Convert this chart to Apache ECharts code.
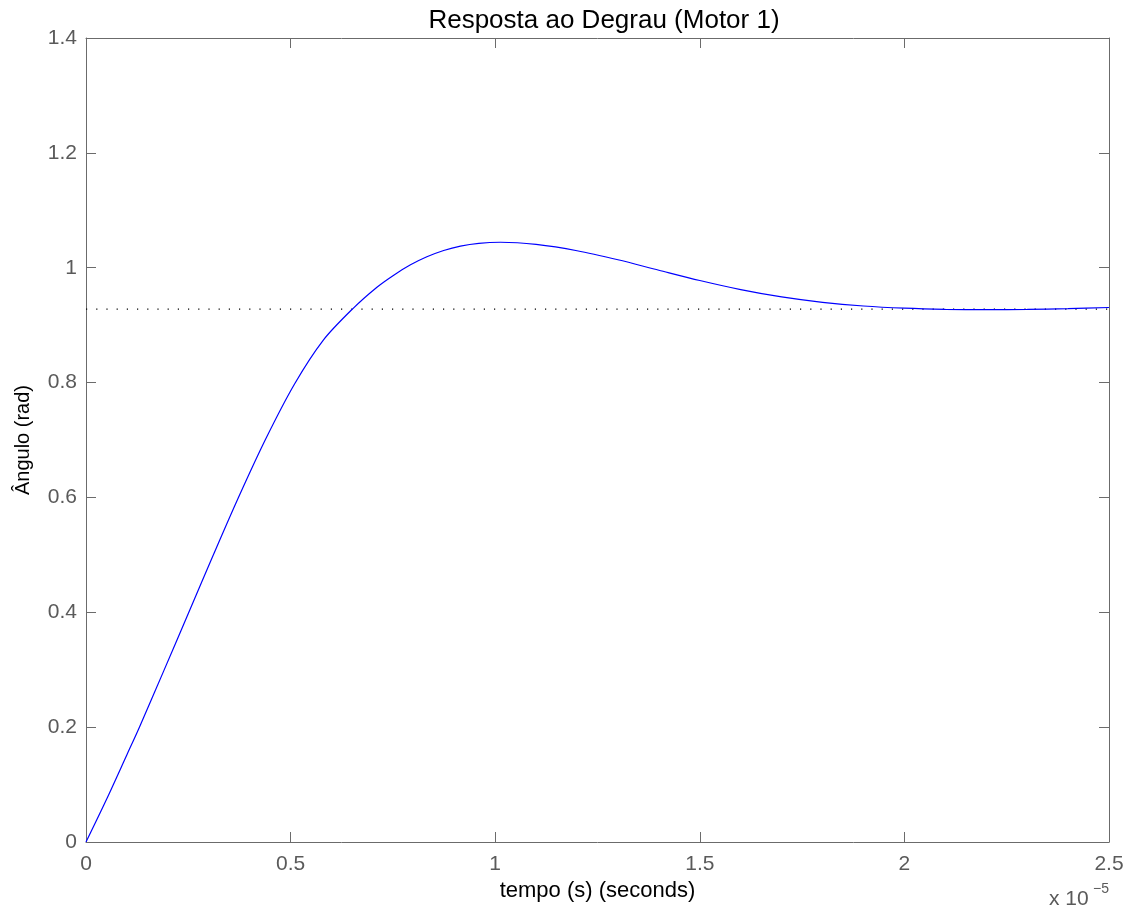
<!DOCTYPE html>
<html>
<head>
<meta charset="utf-8">
<script src="https://cdn.jsdelivr.net/npm/echarts@6/dist/echarts.min.js"></script>
<style>
  html, body { margin: 0; padding: 0; background: #fff; }
  #chart { width: 1134px; height: 912px; }
</style>
</head>
<body>
<div id="chart"></div>
<script>
// Step response of motor 1; time stored in units of 1e-5 s
const time_1e5 = [0, 0.05, 0.1, 0.13, 0.19, 0.25, 0.31, 0.372, 0.44, 0.51, 0.58, 0.651, 0.711, 0.752,
  0.793, 0.833, 0.874, 0.915, 0.96, 1.013, 1.1, 1.2, 1.3, 1.4, 1.5, 1.6, 1.7, 1.8, 1.9, 2.0, 2.1,
  2.2, 2.3, 2.4, 2.5];
const angle = [0, 0.074, 0.152, 0.199, 0.298, 0.398, 0.498, 0.599, 0.703, 0.798, 0.874, 0.928, 0.966, 0.987,
  1.005, 1.019, 1.030, 1.0377, 1.0425, 1.0443, 1.0405, 1.0296, 1.0138, 0.9956, 0.9777, 0.9619, 0.9491,
  0.9397, 0.9333, 0.9295, 0.9275, 0.9269, 0.9274, 0.9288, 0.9307];
const steadyState = 0.928;
const xTicks = [0, 0.5, 1, 1.5, 2, 2.5];
const yTicks = [0, 0.2, 0.4, 0.6, 0.8, 1, 1.2, 1.4];

const font = 'Helvetica, "Liberation Sans", Arial, sans-serif';
const axisGray = '#6b6b6b';
const labelGray = '#5a5a5a';

const fmt = v => String(parseFloat(v.toFixed(2)));

const chart = echarts.init(document.getElementById('chart'), null, { renderer: 'canvas' });

const baseX = {
  type: 'value',
  min: xTicks[0], max: xTicks[xTicks.length - 1], interval: 0.5,
  splitLine: { show: false },
  axisLine: { show: true, onZero: false, lineStyle: { color: axisGray, width: 1 } },
  axisTick: { show: true, inside: true, length: 10, lineStyle: { color: axisGray } }
};
const baseY = {
  type: 'value',
  min: yTicks[0], max: yTicks[yTicks.length - 1], interval: 0.2,
  splitLine: { show: false },
  axisLine: { show: true, onZero: false, lineStyle: { color: axisGray, width: 1 } },
  axisTick: { show: true, inside: true, length: 10, lineStyle: { color: axisGray } }
};

chart.setOption({
  animation: false,
  backgroundColor: '#fff',
  grid: { left: 86, right: 25, top: 38, bottom: 70 },
  xAxis: [
    Object.assign({}, baseX, {
      position: 'bottom',
      name: 'tempo (s) (seconds)', nameLocation: 'middle', nameGap: 36,
      nameTextStyle: { fontFamily: font, fontSize: 22, color: '#000' },
      axisLabel: { show: true, margin: 12, fontFamily: font, fontSize: 21, color: labelGray, formatter: fmt }
    }),
    Object.assign({}, baseX, { position: 'top', axisLabel: { show: false } })
  ],
  yAxis: [
    Object.assign({}, baseY, {
      position: 'left',
      name: 'Ângulo (rad)', nameLocation: 'middle', nameGap: 53, nameRotate: 90,
      nameTextStyle: { fontFamily: font, fontSize: 20, color: '#000' },
      axisLabel: { show: true, margin: 9, fontFamily: font, fontSize: 21, color: labelGray, formatter: fmt }
    }),
    Object.assign({}, baseY, { position: 'right', axisLabel: { show: false } })
  ],
  graphic: [
    {
      type: 'text', x: 604, y: 21,
      style: {
        text: 'Resposta ao Degrau (Motor 1)', font: '26px ' + font, fill: '#000',
        textAlign: 'center', textVerticalAlign: 'middle'
      }
    },
    {
      type: 'text', left: 1049, top: 889,
      style: { text: 'x 10', font: '21px ' + font, fill: labelGray }
    },
    {
      type: 'text', left: 1093, top: 882,
      style: { text: '\u22125', font: '14px ' + font, fill: labelGray }
    }
  ],
  series: [
    {
      type: 'line',
      data: [[xTicks[0], steadyState], [xTicks[xTicks.length - 1], steadyState]],
      showSymbol: false,
      lineStyle: { color: '#000', width: 1.2, type: [1.2, 9] },
      z: 1
    },
    {
      type: 'line',
      data: time_1e5.map((t, i) => [t, angle[i]]),
      smooth: 0.3,
      showSymbol: false,
      lineStyle: { color: '#0000ff', width: 1.2 },
      z: 2
    }
  ]
});
</script>
</body>
</html>
